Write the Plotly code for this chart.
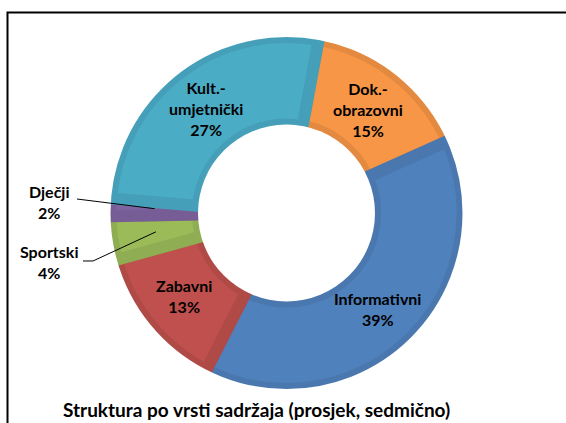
import math
import plotly.graph_objects as go

# ---- data ----
categories = ["Dok.-obrazovni", "Informativni", "Zabavni", "Sportski", "Dječji", "Kult.-umjetnički"]
label_text = ["Dok.-<br>obrazovni", "Informativni", "Zabavni", "Sportski", "Dječji", "Kult.-<br>umjetnički"]
values = [15.4, 39.2, 13.2, 4.0, 1.6, 26.6]
fill_colors = ["#F79646", "#4F81BD", "#C0504D", "#9BBB59", "#8064A2", "#4BACC6"]
edge_colors = ["#E38A40", "#4A77AE", "#B04A47", "#8FAD52", "#775D96", "#469FB8"]
title_text = "Struktura po vrsti sadržaja (prosjek, sedmično)"

W, H = 566, 423
CX, CY = 286.5, 213.0      # donut centre in px
R_OUT = 176.0              # visible outer radius (px)
R_IN = 88.5                # visible hole radius (px)
LINE_W = 12                # slice edge band (half of it visible on outer/inner rims)
ROTATION = 10.5
R_MID = 132.0

fig = go.Figure()
fig.add_trace(go.Pie(
    labels=categories,
    values=values,
    sort=False,
    direction="clockwise",
    rotation=ROTATION,
    hole=R_IN / R_OUT,
    textinfo="none",
    hoverinfo="label+percent",
    marker=dict(colors=fill_colors, line=dict(color=edge_colors, width=LINE_W)),
    domain=dict(x=[(CX - R_OUT) / W, (CX + R_OUT) / W],
                y=[(H - CY - R_OUT) / H, (H - CY + R_OUT) / H]),
    showlegend=False,
))


def circle(r, **kw):
    return dict(type="circle", xref="paper", yref="paper", layer="above",
                x0=(CX - r) / W, x1=(CX + r) / W,
                y0=1 - (CY + r) / H, y1=1 - (CY - r) / H, **kw)


shapes = [
    # trim the outer half of the edge band and the inner half at the hole
    circle(R_OUT + LINE_W / 4 + 0.5, line=dict(color="#FFFFFF", width=LINE_W / 2 + 1),
           fillcolor="rgba(0,0,0,0)"),
    circle(R_IN, line=dict(width=0), fillcolor="#FFFFFF"),
]

total = sum(values)
font = dict(family="Lato", size=16, color="#000000")
annotations = []
cum = 0.0
for i, (lab, v) in enumerate(zip(label_text, values)):
    mid = ROTATION + (cum + v / 2) / total * 360.0
    cum += v
    pct = round(v / total * 100)
    px = CX + R_MID * math.sin(math.radians(mid))
    py = CY - R_MID * math.cos(math.radians(mid))
    txt = f"<b>{lab}<br>{pct}%</b>"
    if v / total < 0.05:
        # outside label with leader line
        if categories[i] == "Dječji":
            lx, ly = 49, 202
            pts = [(77, 199), (px, py)]
        else:
            lx, ly = 49, 262
            pts = [(83, 261), (93, 261), (px, py)]
        annotations.append(dict(x=lx / W, y=1 - ly / H, xref="paper", yref="paper",
                                xanchor="center", yanchor="middle",
                                text=txt, showarrow=False, font=font, align="center"))
        path = "M " + " L ".join(f"{x / W:.5f},{1 - y / H:.5f}" for x, y in pts)
        shapes.append(dict(type="path", path=path, xref="paper", yref="paper", layer="above",
                           line=dict(color="#000000", width=1)))
    else:
        annotations.append(dict(x=px / W, y=1 - py / H, xref="paper", yref="paper",
                                xanchor="center", yanchor="middle",
                                text=txt, showarrow=False, font=font, align="center"))

annotations.append(dict(x=256 / W, y=1 - 409 / H, xref="paper", yref="paper",
                        xanchor="center", yanchor="middle",
                        text=f"<b>{title_text}</b>", showarrow=False,
                        font=dict(family="Lato", size=19, color="#000000")))

# chart frame
shapes.append(dict(type="rect", xref="paper", yref="paper", layer="above",
                   x0=7.5 / W, x1=1.02, y0=-0.05, y1=1 - 12.5 / H,
                   line=dict(color="#000000", width=2), fillcolor="rgba(0,0,0,0)"))

fig.update_layout(
    width=W, height=H,
    margin=dict(l=0, r=0, t=0, b=0),
    paper_bgcolor="#FFFFFF",
    plot_bgcolor="#FFFFFF",
    annotations=annotations,
    shapes=shapes,
)

fig.write_html("out.html", config={"displayModeBar": False},
               post_script="document.body.style.margin='0px';")
